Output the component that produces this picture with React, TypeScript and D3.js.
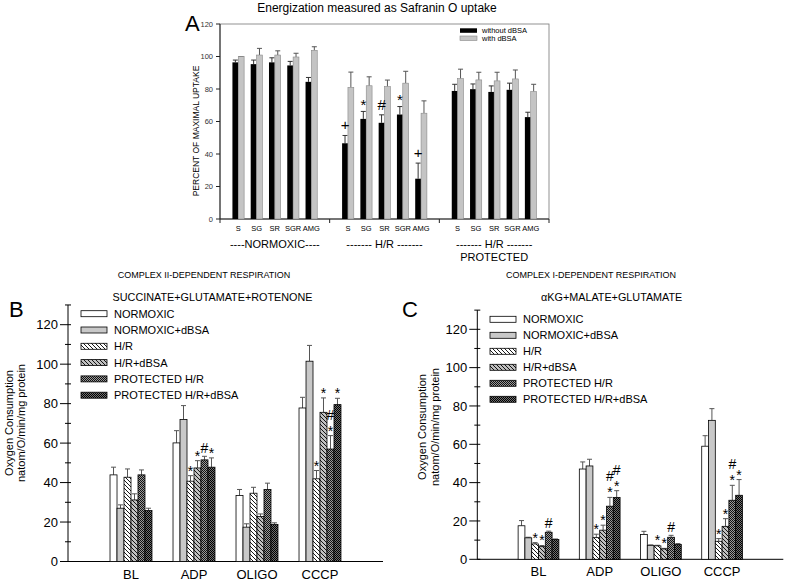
import React from 'react';
import * as d3 from 'd3';

const FONT = '"Liberation Sans", Arial, Helvetica, sans-serif';

// ---------------- Panel A data ----------------
const aTitle = 'Energization measured as Safranin O uptake';
const aYLabel = 'PERCENT OF MAXIMAL UPTAKE';
const aSubstrates = ['S', 'SG', 'SR', 'SGR', 'AMG'];
const aGroupLabels = ['----NORMOXIC----', '------- H/R -------', '------- H/R -------'];
const aGroupSubLabels = ['', '', 'PROTECTED'];
const aSeriesNames = ['without dBSA', 'with dBSA'];
const aWithout = [96.4, 95.3, 96.4, 94.5, 84.4, 46.6, 61.6, 59.2, 64.3, 24.8, 78.8, 79.9, 78.2, 79.5, 62.7];
const aWithoutSem = [1.4, 2.5, 2.8, 2.5, 2.7, 4.8, 4.6, 4.9, 4.9, 9.6, 4.1, 3.2, 3.7, 4.1, 3.0];
const aWith = [100, 100.9, 100.9, 99.7, 103.8, 81, 82, 81.5, 83.6, 65.1, 86.4, 85.6, 85, 86.2, 78.4];
const aWithSem = [0, 4.1, 2.6, 2.3, 2.2, 9.4, 5.5, 4.0, 7.3, 7.6, 5.8, 4.7, 5.3, 5.5, 4.5];
const aMarks = ['', '', '', '', '', '+', '*', '#', '*', '+', '', '', '', '', ''];
const aYTicks = [0, 20, 40, 60, 80, 100, 120];

// ---------------- Panels B & C data ----------------
const states = ['BL', 'ADP', 'OLIGO', 'CCCP'];
const seriesNames = ['NORMOXIC', 'NORMOXIC+dBSA', 'H/R', 'H/R+dBSA', 'PROTECTED H/R', 'PROTECTED H/R+dBSA'];
const respYTicks = [0, 20, 40, 60, 80, 100, 120];
const respMinorTicks = [10, 30, 50, 70, 90, 110, 130];
const yLabelLines = ['Oxygen Consumption', 'natom/O/min/mg protein'];

// B: complex II
const bNormoxic = [43.9, 60.1, 33.4, 77.8];
const bNormoxicSem = [3.9, 6.2, 3.1, 5.4];
const bNormoxicBsa = [27.0, 72.0, 17.4, 101.5];
const bNormoxicBsaSem = [1.7, 7.0, 1.7, 8.0];
const bHR = [42.7, 40.7, 34.6, 41.9];
const bHRSem = [4.2, 2.8, 3.0, 4.2];
const bHRBsa = [31.2, 47.4, 22.8, 75.6];
const bHRBsaSem = [3.1, 3.7, 1.3, 7.3];
const bProt = [43.9, 51.5, 36.5, 57.0];
const bProtSem = [2.5, 1.8, 3.2, 6.8];
const bProtBsa = [25.8, 47.8, 18.7, 79.5];
const bProtBsaSem = [1.2, 4.7, 0.9, 3.2];
const bMarks = [
  ['', '', '', ''],
  ['', '', '', ''],
  ['', '*', '', '*'],
  ['', '*', '', '*'],
  ['', '#', '', '#*'],
  ['', '*', '', '*'],
];

// C: complex I
const cNormoxic = [17.5, 47.1, 12.9, 59.0];
const cNormoxicSem = [2.7, 3.7, 1.7, 5.5];
const cNormoxicBsa = [11.2, 48.7, 7.3, 72.5];
const cNormoxicBsaSem = [0.3, 3.5, 0.2, 6.1];
const cHR = [8.0, 11.3, 7.0, 9.4];
const cHRSem = [0.7, 1.8, 0.3, 1.4];
const cHRBsa = [6.6, 15.2, 5.4, 17.2];
const cHRBsaSem = [0.6, 2.6, 0.3, 4.0];
const cProt = [14.1, 27.7, 11.5, 30.8];
const cProtSem = [0.6, 4.6, 1.0, 7.8];
const cProtBsa = [10.3, 32.3, 7.8, 33.4];
const cProtBsaSem = [0.3, 3.5, 0.4, 8.2];
const cMarks = [
  ['', '', '', ''],
  ['', '', '', ''],
  ['*', '*', '*', '*'],
  ['*', '*', '*', '*'],
  ['#', '#*', '#', '#*'],
  ['', '#*', '', '*'],
];

const fills = ['#ffffff', '#c8c8c8', 'url(#hatchW)', 'url(#hatchG)', 'url(#checkL)', 'url(#checkD)'];

function glyphOffset(ch: string) {
  if (ch === '*') return 0.57;
  if (ch === '#') return 0.36;
  return 0.33;
}

function Marks({ x, topY, text, fs, gap, first }: { x: number; topY: number; text: string; fs: number; gap: number; first: number }) {
  const chars = text.split('');
  const n = chars.length;
  return (
    <g>
      {chars.map((ch, i) => {
        const k = n - 1 - i;
        const cy = topY - first - gap * k;
        return (
          <text key={i} x={x} y={cy + glyphOffset(ch) * fs} fontSize={fs} textAnchor="middle" fill="#000">
            {ch}
          </text>
        );
      })}
    </g>
  );
}

function PanelA() {
  const x = d3.scaleLinear().domain([0, 18]).range([220, 549]);
  const y = d3.scaleLinear().domain([0, 120]).range([219, 24]);
  const bw = 0.32;
  const w = x(bw) - x(0);
  const items = aWithout.map((v, i) => {
    const g = Math.floor(i / 5);
    const j = i % 5;
    return { i, c: 6 * g + j + 1, v, s: aWithoutSem[i], v2: aWith[i], s2: aWithSem[i] };
  });
  return (
    <g fontFamily={FONT}>
      <text x={377} y={12} fontSize={12} textAnchor="middle">{aTitle}</text>
      <text x={185} y={31} fontSize={22}>A</text>
      <rect x={x(0)} y={y(120)} width={x(18) - x(0)} height={y(0) - y(120)} fill="none" stroke="#777" strokeWidth={0.8} />
      <line x1={x(0)} x2={x(0)} y1={y(0)} y2={y(120)} stroke="#222" strokeWidth={1} />
      <line x1={x(0)} x2={x(18)} y1={y(0)} y2={y(0)} stroke="#222" strokeWidth={1} />
      {aYTicks.map((t) => (
        <g key={t}>
          <line x1={x(0) - 4} x2={x(0)} y1={y(t)} y2={y(t)} stroke="#222" />
          <text x={x(0) - 7} y={y(t) + 2.6} fontSize={7.5} textAnchor="end" fill="#333">{t}</text>
        </g>
      ))}
      {[0, 6, 12, 18].map((t) => (
        <line key={t} x1={x(t)} x2={x(t)} y1={y(0)} y2={y(0) + 4} stroke="#222" />
      ))}
      <text transform={`translate(198.5,131) rotate(-90)`} fontSize={8.5} textAnchor="middle">{aYLabel}</text>
      {items.map((d) => {
        const cx = x(d.c);
        return (
          <g key={d.i}>
            <line x1={cx - w / 2} x2={cx - w / 2} y1={y(d.v)} y2={y(d.v + d.s)} stroke="#333" />
            <line x1={cx - w / 2 - 2.5} x2={cx - w / 2 + 2.5} y1={y(d.v + d.s)} y2={y(d.v + d.s)} stroke="#333" />
            <line x1={cx + w / 2} x2={cx + w / 2} y1={y(d.v2)} y2={y(d.v2 + d.s2)} stroke="#555" />
            <line x1={cx + w / 2 - 2.5} x2={cx + w / 2 + 2.5} y1={y(d.v2 + d.s2)} y2={y(d.v2 + d.s2)} stroke="#555" />
            <rect x={cx - w} y={y(d.v)} width={w} height={y(0) - y(d.v)} fill="#000" />
            <rect x={cx} y={y(d.v2)} width={w} height={y(0) - y(d.v2)} fill="#c4c4c4" stroke="#888" strokeWidth={0.6} />
            {aMarks[d.i] && (
              <Marks x={cx - w / 2} topY={y(d.v + d.s)} text={aMarks[d.i]} fs={15} gap={12} first={10} />
            )}
            <text x={cx} y={231} fontSize={7.5} textAnchor="middle">{aSubstrates[d.i % 5]}</text>
          </g>
        );
      })}
      {aGroupLabels.map((l, g) => (
        <g key={g}>
          <text x={x(6 * g + 3)} y={248} fontSize={11} textAnchor="middle">{l}</text>
          {aGroupSubLabels[g] && (
            <text x={x(6 * g + 3)} y={261} fontSize={11} textAnchor="middle">{aGroupSubLabels[g]}</text>
          )}
        </g>
      ))}
      <rect x={460} y={28.3} width={17} height={4.5} fill="#000" />
      <text x={482} y={33.2} fontSize={7.5}>{aSeriesNames[0]}</text>
      <rect x={460} y={36} width={17} height={4.5} fill="#c4c4c4" stroke="#888" strokeWidth={0.6} />
      <text x={482} y={41} fontSize={7.5}>{aSeriesNames[1]}</text>
    </g>
  );
}

type RespCfg = {
  letter: string;
  title1: string;
  title2: string;
  xr: [number, number];
  yr: [number, number];
  title1X: number;
  title2X: number;
  letterX: number;
  ylab: [number, number];
  ylabY: number;
  legX: number;
  legY: number;
  legStep: number;
  values: number[][];
  sems: number[][];
  marks: string[][];
};

function RespPanel({ cfg }: { cfg: RespCfg }) {
  const x = d3.scaleLinear().domain([0, 5]).range(cfg.xr);
  const y = d3.scaleLinear().domain([0, 120]).range(cfg.yr);
  const bw = 0.111;
  const w = x(bw) - x(0);
  const ax = x(0);
  return (
    <g fontFamily={FONT}>
      <text x={cfg.title1X} y={277.5} fontSize={9} textAnchor="middle">{cfg.title1}</text>
      <text x={cfg.title2X} y={300.5} fontSize={10.8} textAnchor="middle">{cfg.title2}</text>
      <text x={cfg.letterX} y={317} fontSize={22}>{cfg.letter}</text>
      {yLabelLines.map((l, i) => (
        <text key={i} transform={`translate(${cfg.ylab[i]},${cfg.ylabY}) rotate(-90)`} fontSize={11} textAnchor="middle">{l}</text>
      ))}
      <line x1={ax} x2={ax} y1={y(0)} y2={y(130)} stroke="#000" />
      <line x1={ax} x2={x(5)} y1={y(0)} y2={y(0)} stroke="#000" />
      {respYTicks.map((t) => (
        <g key={t}>
          <line x1={ax - 8} x2={ax + 3} y1={y(t)} y2={y(t)} stroke="#000" />
          <text x={ax - 10} y={y(t) + 4.6} fontSize={13} textAnchor="end">{t}</text>
        </g>
      ))}
      {respMinorTicks.map((t) => (
        <line key={t} x1={ax - 3} x2={ax + 3} y1={y(t)} y2={y(t)} stroke="#000" />
      ))}
      {states.map((s, k) => (
        <text key={s} x={x(k + 1)} y={y(0) + 17} fontSize={13} textAnchor="middle">{s}</text>
      ))}
      {cfg.values.map((vals, si) =>
        vals.map((v, k) => {
          const c = k + 1 + (si - 3) * bw;
          const left = x(c);
          const mid = left + w / 2;
          const top = v + cfg.sems[si][k];
          return (
            <g key={`${si}-${k}`}>
              <line x1={mid} x2={mid} y1={y(v)} y2={y(top)} stroke="#555" />
              <line x1={mid - 2.5} x2={mid + 2.5} y1={y(top)} y2={y(top)} stroke="#555" />
              <rect x={left} y={y(v)} width={w} height={y(0) - y(v)} fill={fills[si]} stroke="#000" strokeWidth={0.8} />
            </g>
          );
        })
      )}
      {cfg.marks.map((row, si) =>
        row.map((m, k) => {
          if (!m) return null;
          const c = k + 1 + (si - 3) * bw;
          const mid = x(c) + w / 2;
          const top = cfg.values[si][k] + cfg.sems[si][k];
          return <Marks key={`${si}-${k}`} x={mid} topY={y(top)} text={m} fs={14} gap={13} first={8} />;
        })
      )}
      {seriesNames.map((n, i) => {
        const cy = cfg.legY + cfg.legStep * i;
        return (
          <g key={n}>
            <rect x={cfg.legX} y={cy - 3} width={26} height={6} fill={fills[i]} stroke="#000" strokeWidth={0.8} />
            <text x={cfg.legX + 33} y={cy + 4} fontSize={11}>{n}</text>
          </g>
        );
      })}
    </g>
  );
}

const bCfg: RespCfg = {
  letter: 'B',
  title1: 'COMPLEX II-DEPENDENT RESPIRATION',
  title2: 'SUCCINATE+GLUTAMATE+ROTENONE',
  xr: [68, 383],
  yr: [561.5, 324.7],
  title1X: 204,
  title2X: 212.5,
  letterX: 9,
  ylab: [12.5, 25],
  ylabY: 423,
  legX: 81,
  legY: 313.7,
  legStep: 16.3,
  values: [bNormoxic, bNormoxicBsa, bHR, bHRBsa, bProt, bProtBsa],
  sems: [bNormoxicSem, bNormoxicBsaSem, bHRSem, bHRBsaSem, bProtSem, bProtBsaSem],
  marks: bMarks,
};

const cCfg: RespCfg = {
  letter: 'C',
  title1: 'COMPLEX I-DEPENDENT RESPIRATION',
  title2: '\u03B1KG+MALATE+GLUTAMATE',
  xr: [477.3, 783.3],
  yr: [559.3, 329.3],
  title1X: 591,
  title2X: 611.7,
  letterX: 402,
  ylab: [426, 439],
  ylabY: 427,
  legX: 490,
  legY: 319.3,
  legStep: 16,
  values: [cNormoxic, cNormoxicBsa, cHR, cHRBsa, cProt, cProtBsa],
  sems: [cNormoxicSem, cNormoxicBsaSem, cHRSem, cHRBsaSem, cProtSem, cProtBsaSem],
  marks: cMarks,
};

export default function App() {
  return (
    <svg
      width={787}
      height={583}
      viewBox="0 0 787 583"
      style={{ position: 'absolute', left: 0, top: 0, background: '#fff' }}
    >
      <defs>
        <pattern id="hatchW" width={4} height={4} patternUnits="userSpaceOnUse">
          <rect width={4} height={4} fill="#fff" />
          <path d="M-1,-1 L5,5 M3,-1 L5,1 M-1,3 L1,5" stroke="#000" strokeWidth={0.9} />
        </pattern>
        <pattern id="hatchG" width={4} height={4} patternUnits="userSpaceOnUse">
          <rect width={4} height={4} fill="#c0c0c0" />
          <path d="M-1,-1 L5,5 M3,-1 L5,1 M-1,3 L1,5" stroke="#000" strokeWidth={0.9} />
        </pattern>
        <pattern id="checkL" width={2} height={2} patternUnits="userSpaceOnUse">
          <rect width={2} height={2} fill="#9a9a9a" />
          <rect width={1} height={1} fill="#111" />
          <rect x={1} y={1} width={1} height={1} fill="#111" />
        </pattern>
        <pattern id="checkD" width={2} height={2} patternUnits="userSpaceOnUse">
          <rect width={2} height={2} fill="#707070" />
          <rect width={1} height={1} fill="#000" />
          <rect x={1} y={1} width={1} height={1} fill="#000" />
        </pattern>
      </defs>
      <rect width={787} height={583} fill="#fff" />
      <PanelA />
      <RespPanel cfg={bCfg} />
      <RespPanel cfg={cCfg} />
    </svg>
  );
}
